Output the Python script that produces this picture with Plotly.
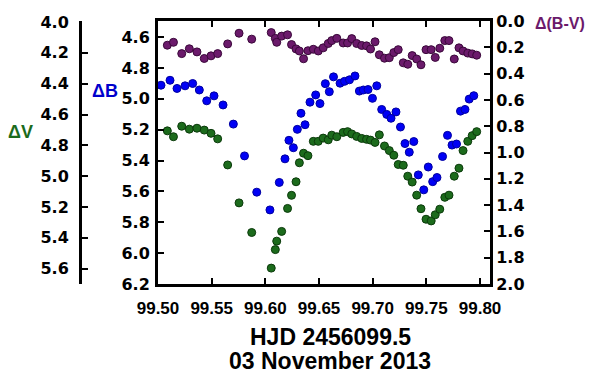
import plotly.graph_objects as go

# ---- data ----
# time (HJD - 2456000) for V and B-V observations
t_v = [99.5087, 99.5144, 99.5221, 99.5292, 99.5363, 99.5431, 99.5494, 99.5556, 99.5649, 99.5755,
       99.5873, 99.6055, 99.6093, 99.6106, 99.6152, 99.6207, 99.6244, 99.6286, 99.6317, 99.6356,
       99.6397, 99.6447, 99.6493, 99.6539, 99.6586, 99.6619, 99.6666, 99.6725, 99.6766, 99.6805,
       99.6851, 99.6898, 99.6943, 99.6980, 99.7022, 99.7062, 99.7110, 99.7155, 99.7197, 99.7238,
       99.7285, 99.7327, 99.7368, 99.7410, 99.7450, 99.7497, 99.7545, 99.7583, 99.7625, 99.7672,
       99.7711, 99.7760, 99.7804, 99.7842, 99.7886, 99.7927, 99.7969]
dV = [4.706, 4.744, 4.676, 4.695, 4.689, 4.701, 4.722, 4.758, 4.927, 5.173,
      5.365, 5.596, 5.476, 5.421, 5.358, 5.209, 5.124, 5.036, 4.913, 4.851,
      4.867, 4.774, 4.774, 4.753, 4.764, 4.734, 4.744, 4.716, 4.711, 4.726,
      4.742, 4.755, 4.761, 4.766, 4.781, 4.732, 4.804, 4.834, 4.864, 4.924,
      4.929, 5.000, 5.038, 5.123, 5.211, 5.279, 5.290, 5.250, 5.214, 5.137,
      5.123, 5.000, 4.948, 4.834, 4.774, 4.737, 4.711]
dBV = [0.184, 0.162, 0.248, 0.211, 0.235, 0.285, 0.265, 0.248, 0.174, 0.093,
       0.138, 0.088, 0.132, 0.162, 0.115, 0.105, 0.179, 0.212, 0.228, 0.287,
       0.226, 0.215, 0.228, 0.204, 0.171, 0.149, 0.132, 0.167, 0.167, 0.134,
       0.171, 0.186, 0.189, 0.213, 0.158, 0.257, 0.283, 0.279, 0.240, 0.218,
       0.318, 0.329, 0.263, 0.289, 0.333, 0.218, 0.218, 0.277, 0.207, 0.149,
       0.149, 0.289, 0.204, 0.228, 0.244, 0.250, 0.260]

# time for B observations
t_b = [99.5028, 99.5112, 99.5177, 99.5252, 99.5323, 99.5385, 99.5454, 99.5522, 99.5606, 99.5702,
       99.5806, 99.5920, 99.6043, 99.6130, 99.6183, 99.6220, 99.6261, 99.6298, 99.6332, 99.6370,
       99.6416, 99.6469, 99.6509, 99.6559, 99.6596, 99.6635, 99.6696, 99.6738, 99.6784, 99.6835,
       99.6876, 99.6913, 99.6957, 99.6998, 99.7038, 99.7084, 99.7131, 99.7171, 99.7217, 99.7259,
       99.7301, 99.7341, 99.7383, 99.7425, 99.7476, 99.7518, 99.7559, 99.7599, 99.7651, 99.7697,
       99.7739, 99.7781, 99.7818, 99.7860, 99.7899, 99.7942]
dB = [4.912, 4.880, 4.933, 4.916, 4.901, 4.943, 5.013, 4.981, 5.040, 5.164,
      5.370, 5.605, 5.720, 5.542, 5.389, 5.269, 5.317, 5.198, 5.094, 5.168,
      5.022, 4.975, 5.031, 4.902, 4.954, 4.858, 4.899, 4.887, 4.877, 4.852,
      4.950, 4.943, 4.940, 4.997, 4.916, 5.069, 5.101, 5.126, 5.085, 5.183,
      5.290, 5.346, 5.277, 5.493, 5.590, 5.442, 5.537, 5.510, 5.374, 5.237,
      5.300, 5.293, 5.080, 5.069, 5.002, 4.980]

x_ticks = [99.50, 99.55, 99.60, 99.65, 99.70, 99.75, 99.80]
v_ticks = [4.0, 4.2, 4.4, 4.6, 4.8, 5.0, 5.2, 5.4, 5.6]
b_ticks = [4.6, 4.8, 5.0, 5.2, 5.4, 5.6, 5.8, 6.0, 6.2]
bv_ticks = [0.0, 0.2, 0.4, 0.6, 0.8, 1.0, 1.2, 1.4, 1.6, 1.8, 2.0]

GREEN = "#1c6b1c"
BLUE = "#0000f5"
PURPLE = "#6b1a6b"
FONT = "Liberation Sans"

xfont = dict(family=FONT, size=17, color="black", weight="bold")
yfont = dict(family="DejaVu Sans", size=16, color="black", weight="bold")

fig = go.Figure()
fig.add_trace(go.Scatter(x=t_b, y=dB, mode="markers", yaxis="y",
                         marker=dict(color=BLUE, size=8, line=dict(color="#0000a0", width=1))))
fig.add_trace(go.Scatter(x=t_v, y=dV, mode="markers", yaxis="y2",
                         marker=dict(color=GREEN, size=8, line=dict(color="#0b3a0b", width=1))))
fig.add_trace(go.Scatter(x=t_v, y=dBV, mode="markers", yaxis="y3",
                         marker=dict(color=PURPLE, size=8, line=dict(color="#3a083a", width=1))))

W, H = 593, 377
ml, mr, mt, mb = 80, 103, 14, 93
pw = W - ml - mr
ph = H - mt - mb
x0 = (158 - ml) / pw

common = dict(showgrid=False, zeroline=False, showline=True, linecolor="black", linewidth=3,
              ticks="inside", ticklen=6, tickwidth=2, tickcolor="black")

fig.update_layout(
    width=W, height=H, margin=dict(l=ml, r=mr, t=mt, b=mb),
    paper_bgcolor="white", plot_bgcolor="white", showlegend=False,
    xaxis=dict(domain=[x0, 1], range=[99.5, 99.8093], tickvals=x_ticks,
               ticktext=[f"{v:.2f}" for v in x_ticks], mirror="ticks",
               tickfont=xfont, ticklabelstandoff=7, **common),
    yaxis=dict(range=[6.2, 4.496], tickvals=b_ticks, ticktext=[f"{v:.1f}" for v in b_ticks],
               anchor="x", side="left", tickfont=yfont, ticklabelstandoff=2, **common),
    yaxis2=dict(range=[5.699, 3.9937], tickvals=v_ticks, ticktext=[f"{v:.1f}" for v in v_ticks],
                overlaying="y", anchor="free", position=0, side="left",
                tickfont=yfont, ticklabelstandoff=7, **common),
    yaxis3=dict(range=[2.0, 0.0], tickvals=bv_ticks, ticktext=[f"{v:.1f}" for v in bv_ticks],
                overlaying="y", anchor="x", side="right", tickfont=yfont, **common),
)

def px_x(p):
    return (p - ml) / pw

def px_y(p):
    return (H - mb - p) / ph

ann = [
    ("ΔV", 20, 128, GREEN, 18),
    ("ΔB", 105, 86, "#0000cc", 18),
    ("Δ(B-V)", 560, 17, PURPLE, 16),
    ("HJD 2456099.5", 330, 338, "black", 23),
    ("03 November 2013", 330, 363, "black", 23),
]
for text, ax, ay, col, fs in ann:
    fig.add_annotation(text=text, x=px_x(ax), y=px_y(ay), xref="paper", yref="paper",
                       showarrow=False, xanchor="center", yanchor="middle",
                       font=dict(family=FONT, size=fs, color=col, weight="bold"))

fig.write_html("out.html")
